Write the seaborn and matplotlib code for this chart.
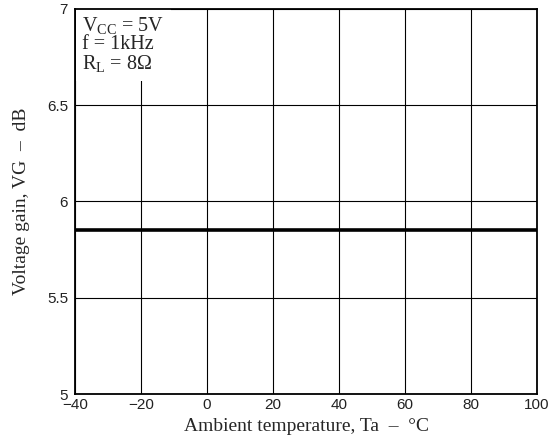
import matplotlib
matplotlib.use("Agg")
import matplotlib.pyplot as plt
import seaborn as sns
import pandas as pd

temperature = [-40, 100]
voltage_gain = [5.85, 5.85]
x_ticks = [-40, -20, 0, 20, 40, 60, 80, 100]
y_ticks = [5, 5.5, 6, 6.5, 7]
y_tick_labels = ["5", "5.5", "6", "6.5", "7"]
x_tick_labels = ["\u221240", "\u221220", "0", "20", "40", "60", "80", "100"]
conditions = ["V$_{\\mathrm{CC}}$ = 5V", "f = 1kHz", "R$_{\\mathrm{L}}$ = 8\u03a9"]

sns.set_style("white")
plt.rcParams["font.family"] = ["Liberation Sans", "DejaVu Sans"]
plt.rcParams["mathtext.fontset"] = "custom"
plt.rcParams["mathtext.rm"] = "Liberation Serif"
plt.rcParams["mathtext.it"] = "Liberation Serif:italic"

W, H = 548, 444
left, right, top, bottom = 75, 537, 9, 394
fig = plt.figure(figsize=(W / 100, H / 100), dpi=100)
ax = fig.add_axes([left / W, 1 - bottom / H, (right - left) / W, (bottom - top) / H])

df = pd.DataFrame({"Ta": temperature, "VG": voltage_gain})
sns.lineplot(data=df, x="Ta", y="VG", ax=ax, color="black", linewidth=2.6, zorder=3)

ax.set_xlim(-40, 100)
ax.set_ylim(5, 7)
ax.set_xticks(x_ticks)
ax.set_xticklabels(x_tick_labels)
ax.set_yticks(y_ticks)
ax.set_yticklabels(y_tick_labels)
ax.grid(True, color="black", linewidth=0.8)
ax.set_axisbelow(True)
for s in ax.spines.values():
    s.set_color("black")
    s.set_linewidth(1.3)
    s.set_zorder(5)
ax.tick_params(axis="y", direction="out", length=4, width=1, color="black",
               labelsize=11, labelcolor="#222222", pad=1)
ax.tick_params(axis="x", direction="out", length=0, labelsize=11,
               labelcolor="#222222", pad=3)

serif = ["Liberation Serif", "DejaVu Serif"]
ax.set_xlabel("Ambient temperature, Ta  \u2013  \u00b0C", fontsize=14, family=serif, labelpad=4)
ax.set_ylabel("Voltage gain, VG  \u2013  dB", fontsize=14, family=serif, labelpad=12)

ax.text(0.016, 0.985, "\n".join(conditions), transform=ax.transAxes, ha="left", va="top",
        fontsize=14.5, family=serif, linespacing=0.95, zorder=4,
        bbox=dict(facecolor="white", edgecolor="none", pad=5))

fig.savefig("out.png", dpi=100)
